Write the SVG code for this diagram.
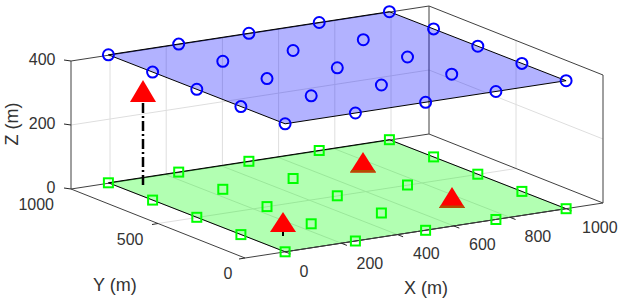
<svg xmlns="http://www.w3.org/2000/svg" xmlns:xlink="http://www.w3.org/1999/xlink" width="621" height="302" viewBox="0 0 621 302">
<style>
.grid{stroke:#dedede;stroke-width:1;fill:none}
.box{stroke:#404040;stroke-width:1;fill:none}
.tick{stroke:#262626;stroke-width:1}
.tl{font-family:"Liberation Sans",Arial,sans-serif;font-size:16px;fill:#333}
.al{font-family:"Liberation Sans",Arial,sans-serif;font-size:18px;fill:#333}
.edge{stroke:#000;stroke-width:1}
.circ{fill:none;stroke:#0000ff;stroke-width:2}
.sq{fill:none;stroke:#00ff00;stroke-width:2}
.tri{fill:#ff0000}
</style>
<defs>
<circle id="c" cx="0" cy="0" r="5.5" class="circ"/>
<rect id="s" x="-4.5" y="-4.5" width="9" height="9" class="sq"/>
</defs>
<rect width="621" height="302" fill="#fff"/>
<g id="grid">
<line class="grid" x1="285.1" y1="251.8" x2="108.4" y2="182.8"/>
<line class="grid" x1="341.3" y1="243.2" x2="164.6" y2="174.2"/>
<line class="grid" x1="397.5" y1="234.6" x2="220.8" y2="165.6"/>
<line class="grid" x1="453.7" y1="225.9" x2="277.0" y2="156.9"/>
<line class="grid" x1="509.9" y1="217.3" x2="333.2" y2="148.3"/>
<line class="grid" x1="566.1" y1="208.7" x2="389.4" y2="139.7"/>
<line class="grid" x1="158" y1="223.5" x2="516" y2="168.5"/>
<line class="grid" x1="110" y1="182.8" x2="110" y2="54.8"/>
<line class="grid" x1="166.2" y1="174.2" x2="166.2" y2="46.2"/>
<line class="grid" x1="222.4" y1="165.6" x2="222.4" y2="37.6"/>
<line class="grid" x1="278.6" y1="156.9" x2="278.6" y2="28.9"/>
<line class="grid" x1="334.8" y1="148.3" x2="334.8" y2="20.3"/>
<line class="grid" x1="391" y1="139.7" x2="391" y2="11.7"/>
<line class="grid" x1="71" y1="125" x2="429" y2="70"/>
<line class="grid" x1="429" y1="70" x2="603" y2="139"/>
<line class="grid" x1="516" y1="168.5" x2="516" y2="40.5"/>
</g>
<g id="axes-box">
<line class="box" x1="71" y1="189" x2="429" y2="134"/>
<line class="box" x1="429" y1="134" x2="603" y2="203"/>
<line class="box" x1="71" y1="61" x2="429" y2="6"/>
<line class="box" x1="429" y1="6" x2="603" y2="75"/>
<line class="box" x1="429" y1="134" x2="429" y2="6"/>
<line class="box" x1="603" y1="203" x2="603" y2="75"/>
<line class="box" x1="71" y1="189" x2="71" y2="61"/>
</g>
<g id="green-plane">
<polygon points="108.4,182.8 389.4,139.7 566.1,208.7 285.1,251.8" fill="#00ff00" fill-opacity="0.3" class="edge"/>
</g>
<g id="blue-plane">
<polygon points="108.4,54.8 389.4,11.7 566.1,80.7 285.1,123.8" fill="#0000ff" fill-opacity="0.3" class="edge"/>
</g>
<g id="axis-lines">
<line class="box" x1="71" y1="189" x2="245" y2="258"/>
<line class="box" x1="245" y1="258" x2="603" y2="203"/>
</g>
<g id="ticks">
<line class="tick" x1="71" y1="61" x2="64" y2="60"/>
<line class="tick" x1="71" y1="125" x2="64" y2="124"/>
<line class="tick" x1="71" y1="189" x2="64" y2="188"/>
<line class="tick" x1="158" y1="223.5" x2="152" y2="224.5"/>
<line class="tick" x1="245" y1="258" x2="239" y2="259"/>
<line class="tick" x1="285.1" y1="251.8" x2="290.7" y2="254"/>
<line class="tick" x1="341.3" y1="243.2" x2="346.9" y2="245.4"/>
<line class="tick" x1="397.5" y1="234.6" x2="403.1" y2="236.8"/>
<line class="tick" x1="453.7" y1="225.9" x2="459.3" y2="228.1"/>
<line class="tick" x1="509.9" y1="217.3" x2="515.5" y2="219.5"/>
<line class="tick" x1="566.1" y1="208.7" x2="571.7" y2="210.9"/>
<text class="tl" x="55.5" y="65" text-anchor="end">400</text>
<text class="tl" x="55.5" y="129" text-anchor="end">200</text>
<text class="tl" x="55.5" y="193" text-anchor="end">0</text>
<text class="tl" x="54" y="209.5" text-anchor="end">1000</text>
<text class="tl" x="143.5" y="244.5" text-anchor="end">500</text>
<text class="tl" x="232.5" y="278.5" text-anchor="end">0</text>
<text class="tl" x="299.5" y="276.5">0</text>
<text class="tl" x="356.5" y="268.5">200</text>
<text class="tl" x="413" y="259">400</text>
<text class="tl" x="469" y="250">600</text>
<text class="tl" x="524.5" y="241.7">800</text>
<text class="tl" x="582" y="232.7">1000</text>
</g>
<g id="axis-labels">
<text class="al" transform="translate(18,124) rotate(-90)" text-anchor="middle">Z (m)</text>
<text class="al" x="93" y="291">Y (m)</text>
<text class="al" x="404" y="294">X (m)</text>
</g>
<g id="ground-nodes">
<use xlink:href="#s" x="285.1" y="251.8"/><use xlink:href="#s" x="355.4" y="241.0"/><use xlink:href="#s" x="425.6" y="230.3"/><use xlink:href="#s" x="495.9" y="219.5"/><use xlink:href="#s" x="566.1" y="208.7"/>
<use xlink:href="#s" x="240.9" y="234.6"/><use xlink:href="#s" x="311.2" y="223.8"/><use xlink:href="#s" x="381.4" y="213.0"/><use xlink:href="#s" x="521.9" y="191.4"/>
<use xlink:href="#s" x="196.8" y="217.3"/><use xlink:href="#s" x="267.0" y="206.6"/><use xlink:href="#s" x="337.3" y="195.8"/><use xlink:href="#s" x="407.5" y="185.0"/><use xlink:href="#s" x="477.8" y="174.2"/>
<use xlink:href="#s" x="152.6" y="200.1"/><use xlink:href="#s" x="222.8" y="189.3"/><use xlink:href="#s" x="293.1" y="178.5"/><use xlink:href="#s" x="433.6" y="156.9"/>
<use xlink:href="#s" x="108.4" y="182.8"/><use xlink:href="#s" x="178.7" y="172.1"/><use xlink:href="#s" x="248.9" y="161.3"/><use xlink:href="#s" x="319.2" y="150.5"/><use xlink:href="#s" x="389.4" y="139.7"/>
</g>
<g id="aerial-nodes">
<use xlink:href="#c" x="285.1" y="123.8"/><use xlink:href="#c" x="355.4" y="113.0"/><use xlink:href="#c" x="425.6" y="102.3"/><use xlink:href="#c" x="495.9" y="91.5"/><use xlink:href="#c" x="566.1" y="80.7"/>
<use xlink:href="#c" x="240.9" y="106.6"/><use xlink:href="#c" x="311.2" y="95.8"/><use xlink:href="#c" x="381.4" y="85.0"/><use xlink:href="#c" x="451.7" y="74.2"/><use xlink:href="#c" x="521.9" y="63.4"/>
<use xlink:href="#c" x="196.8" y="89.3"/><use xlink:href="#c" x="267.0" y="78.6"/><use xlink:href="#c" x="337.3" y="67.8"/><use xlink:href="#c" x="407.5" y="57.0"/><use xlink:href="#c" x="477.8" y="46.2"/>
<use xlink:href="#c" x="152.6" y="72.1"/><use xlink:href="#c" x="222.8" y="61.3"/><use xlink:href="#c" x="293.1" y="50.5"/><use xlink:href="#c" x="363.3" y="39.7"/><use xlink:href="#c" x="433.6" y="28.9"/>
<use xlink:href="#c" x="108.4" y="54.8"/><use xlink:href="#c" x="178.7" y="44.1"/><use xlink:href="#c" x="248.9" y="33.3"/><use xlink:href="#c" x="319.2" y="22.5"/><use xlink:href="#c" x="389.4" y="11.7"/>
</g>
<g id="connectors">
<line x1="143" y1="103" x2="143" y2="185" stroke="#000" stroke-width="2.5" stroke-dasharray="10 3 2 3"/>
<line x1="283" y1="231" x2="283" y2="236" stroke="#000" stroke-width="2"/>
</g>
<g id="uav">
<polygon class="tri" points="143,80 156,102 130,102"/>
</g>
<g id="user-1">
<polygon class="tri" points="283,212 296,232 270,232"/>
</g>
<g id="user-2">
<polygon class="tri" points="363,152 376,172.5 350,172.5"/>
<polygon points="351.6,170 374.4,170 376,172.5 350,172.5" fill="#b34d00"/>
</g>
<g id="user-3">
<polygon class="tri" points="452,187 465,208 439,208"/>
<polygon points="440.6,205.5 463.4,205.5 465,208 439,208" fill="#b34d00"/>
</g>
</svg>
